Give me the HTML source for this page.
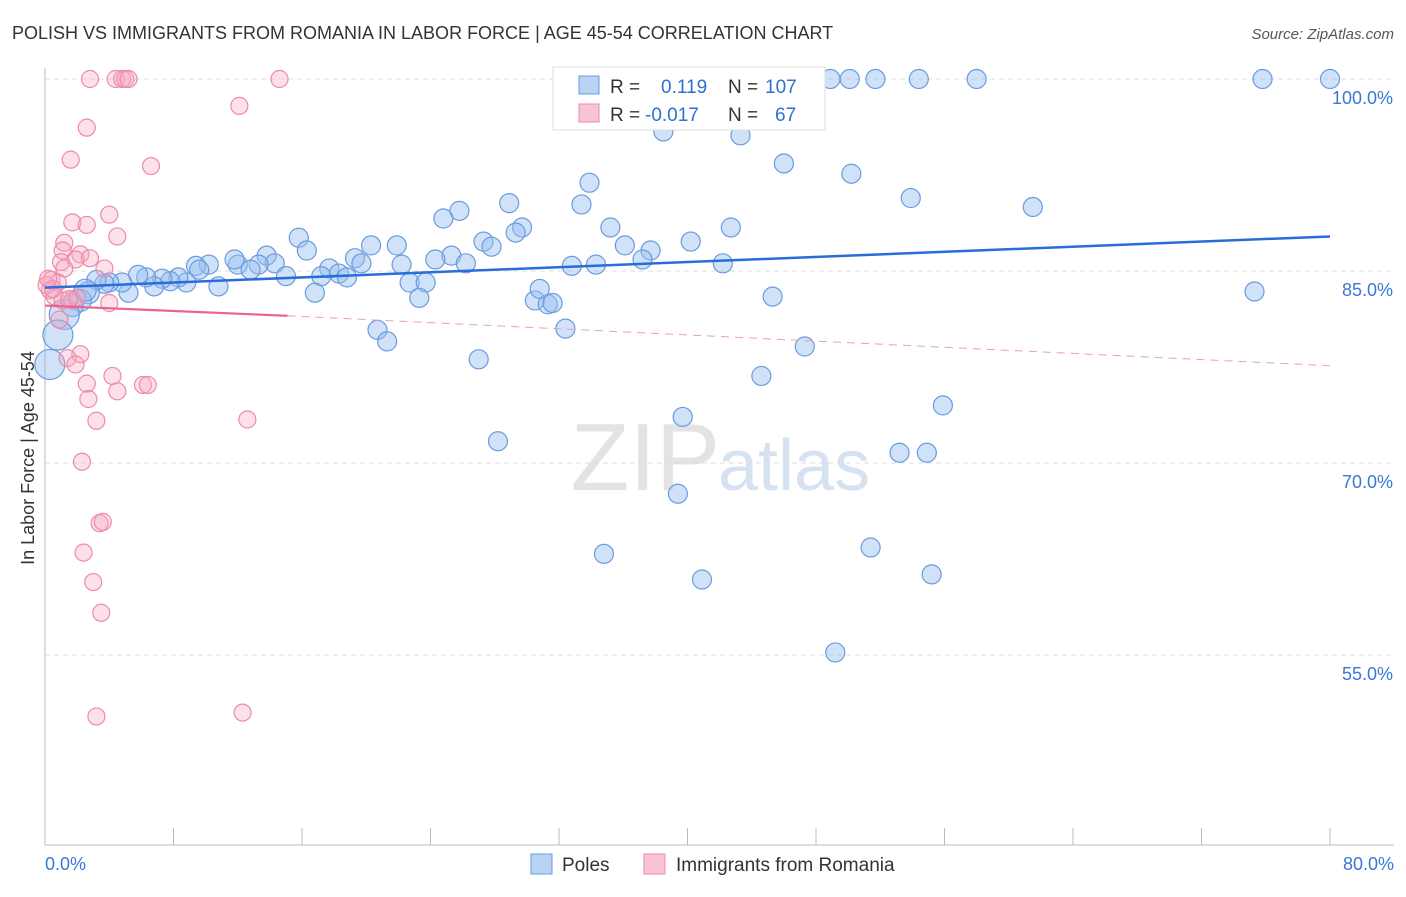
<!DOCTYPE html>
<html><head><meta charset="utf-8"><style>
body{margin:0;background:#fff;font-family:"Liberation Sans",sans-serif;}
svg text{font-family:"Liberation Sans",sans-serif;}
</style></head><body>
<svg id="chart" width="1406" height="892" xmlns="http://www.w3.org/2000/svg">
<text x="12" y="39" font-size="18" fill="#333">POLISH VS IMMIGRANTS FROM ROMANIA IN LABOR FORCE | AGE 45-54 CORRELATION CHART</text>
<text x="1394" y="39" font-size="15" fill="#555" font-style="italic" text-anchor="end">Source: ZipAtlas.com</text>
<text x="720" y="490" font-size="96" fill="#e3e3e3" text-anchor="end" font-family="Liberation Serif">ZIP</text>
<text x="718" y="490" font-size="72" fill="#d5e2f2">atlas</text>
<g id="grid"></g><g id="axes"></g><g id="pts"></g><g id="trend"></g>
<g>
<rect x="553" y="67" width="272" height="63" fill="#fff" stroke="#ddd"/>
<rect x="579" y="76" width="20" height="18" fill="#b8d3f5" stroke="#6a9be0"/>
<rect x="579" y="104" width="20" height="18" fill="#f9c5d5" stroke="#ee8aa9"/>
<text x="610" y="93" font-size="19" fill="#333">R = </text><text x="661" y="93" font-size="19" fill="#2f6fd4">0.119</text>
<text x="728" y="93" font-size="19" fill="#333">N = </text><text x="765" y="93" font-size="19" fill="#2f6fd4">107</text>
<text x="610" y="121" font-size="19" fill="#333">R = </text><text x="645" y="121" font-size="19" fill="#2f6fd4">-0.017</text>
<text x="728" y="121" font-size="19" fill="#333">N = </text><text x="775" y="121" font-size="19" fill="#2f6fd4">67</text>
</g>
<g>
<rect x="531" y="854" width="21" height="20" fill="#b8d3f5" stroke="#6a9be0"/>
<text x="562" y="871" font-size="19" fill="#333">Poles</text>
<rect x="644" y="854" width="21" height="20" fill="#f9c5d5" stroke="#ee8aa9"/>
<text x="676" y="871" font-size="19" fill="#333">Immigrants from Romania</text>
</g>
<text x="34" y="458" font-size="18" fill="#333" text-anchor="middle" transform="rotate(-90 34 458)">In Labor Force | Age 45-54</text>
</svg>
<script>
const yTicks=[100,85,70,55];
const yTickLabels=["100.0%","85.0%","70.0%","55.0%"];
const xTickLabels=["0.0%","80.0%"];
const blueX=[48.9,50.1,51.7,54.4,58.0,75.8,80,36.7,38.5,43.3,46.0,50.2,33.9,53.9,61.5,33.4,28.9,25.8,24.8,29.7,29.3,35.2,42.7,40.2,36.1,37.7,37.2,42.2,27.3,27.8,25.3,26.2,24.3,21.9,20.3,19.3,19.7,15.8,16.3,13.8,14.3,13.3,12.0,11.8,12.8,15.0,17.7,17.2,18.3,18.8,22.2,22.7,23.7,23.3,16.8,32.8,34.3,30.5,31.3,31.6,30.8,32.4,20.7,21.3,27.0,45.3,47.3,44.6,55.9,39.7,28.2,53.2,54.9,39.4,51.4,34.8,40.9,55.2,49.2,75.3,10.2,9.4,10.8,9.6,8.8,8.3,7.8,7.3,6.8,6.3,5.8,5.2,4.8,4.0,3.7,3.2,2.7,2.2,1.7,1.2,0.8,0.3,2.5];
const blueY=[100,100,100,100,100,100,100,100,95.9,95.6,93.4,92.6,91.9,90.7,90.0,90.2,90.3,89.7,89.1,88.4,88.0,88.4,88.4,87.3,87.0,86.6,85.9,85.6,87.3,86.9,86.2,85.6,85.9,87.0,87.0,86.0,85.6,87.6,86.6,86.2,85.6,85.5,85.5,85.9,85.1,84.6,85.2,84.6,84.8,84.5,85.5,84.1,84.1,82.9,83.3,85.4,85.5,82.7,82.4,82.5,83.6,80.5,80.4,79.5,78.1,83.0,79.1,76.8,74.5,73.6,71.7,70.8,70.8,67.6,63.4,62.9,60.9,61.3,55.2,83.4,85.5,85.4,83.8,85.1,84.1,84.5,84.2,84.4,83.8,84.5,84.7,83.3,84.1,84.1,84.0,84.3,83.3,82.7,82.3,81.6,80.0,77.7,83.5];
const pinkX=[2.8,4.4,4.8,5.0,5.2,14.6,12.1,2.6,6.6,1.6,4.0,1.7,2.6,4.5,1.2,1.1,2.2,1.9,1.0,3.7,1.2,0.4,0.8,0.3,0.6,1.1,1.7,4.0,0.9,2.2,1.4,1.9,4.2,2.6,6.1,6.4,4.5,2.7,3.2,12.6,2.3,3.4,3.6,2.4,3.0,3.5,3.2,12.3,2.0,0.1,0.5,1.5,2.8,0.2];
const pinkY=[100,100,100,100,100,100,97.9,96.2,93.2,93.7,89.4,88.8,88.6,87.7,87.2,86.6,86.3,85.9,85.7,85.2,85.2,84.3,84.1,83.5,83.0,82.7,82.7,82.5,81.2,78.5,78.2,77.7,76.8,76.2,76.1,76.1,75.6,75.0,73.3,73.4,70.1,65.3,65.4,63.0,60.7,58.3,50.2,50.5,82.9,83.9,83.6,82.8,86.0,84.4];
const blueTrend=[0,83.7,80,87.7];
const pinkTrend=[0,82.3,15.1,81.5,80,77.6];
const sx=v=>45+v*1285/80, sy=v=>79+(100-v)*12.8;
const NS="http://www.w3.org/2000/svg";
function mk(tag,attrs,parent){const e=document.createElementNS(NS,tag);for(const k in attrs)e.setAttribute(k,attrs[k]);parent.appendChild(e);return e;}
const grid=document.getElementById('grid'),axes=document.getElementById('axes');
yTicks.forEach((t,i)=>{
  const l=mk('line',{x1:45,x2:1394,y1:sy(t),y2:sy(t),stroke:'#ddd','stroke-dasharray':'5,4'},grid);
  
  
  const tx=mk('text',{x:1393,y:sy(t)+25,'font-size':18,fill:'#3a78d4','text-anchor':'end'},axes);
  tx.textContent=yTickLabels[i];
  
  
});
mk('line',{x1:45,x2:45,y1:68,y2:845,stroke:'#bbb'},axes);
mk('line',{x1:45,x2:1394,y1:845,y2:845,stroke:'#bbb'},axes);
for(let i=0;i<=10;i++){const x=sx(i*8);mk('line',{x1:x,x2:x,y1:828,y2:845,stroke:'#bbb'},axes);}
[[0,'start',45],[1,'end',1394]].forEach(([i,a,x])=>{
  const tx=mk('text',{x:x,y:870,'font-size':18,fill:'#3a78d4','text-anchor':a},axes);
  tx.textContent=xTickLabels[i];
  
  
});
const pts=document.getElementById('pts');
blueX.forEach((x,i)=>{
  const big=(x<1.5&&blueY[i]<82)?15:(x<3?11:9.5);
  const c=mk('circle',{cx:sx(x),cy:sy(blueY[i]),r:big,fill:'rgba(150,190,240,0.45)',stroke:'#6a9be0','stroke-width':1.2},pts);
  
  
});
pinkX.forEach((x,i)=>{
  const c=mk('circle',{cx:sx(x),cy:sy(pinkY[i]),r:8.5,fill:'rgba(245,170,195,0.35)',stroke:'#ee8aa9','stroke-width':1.2},pts);
  
  
});
const tr=document.getElementById('trend');
const bl=mk('line',{x1:sx(blueTrend[0]),y1:sy(blueTrend[1]),x2:sx(blueTrend[2]),y2:sy(blueTrend[3]),stroke:'#2a6dd8','stroke-width':2.5},tr);


const pl=mk('line',{x1:sx(pinkTrend[0]),y1:sy(pinkTrend[1]),x2:sx(pinkTrend[2]),y2:sy(pinkTrend[3]),stroke:'#e8648f','stroke-width':2.2},tr);


const pd=mk('line',{x1:sx(pinkTrend[2]),y1:sy(pinkTrend[3]),x2:sx(pinkTrend[4]),y2:sy(pinkTrend[5]),stroke:'#e8a0b8','stroke-width':1,'stroke-dasharray':'8,6'},tr);


</script>
</body></html>
